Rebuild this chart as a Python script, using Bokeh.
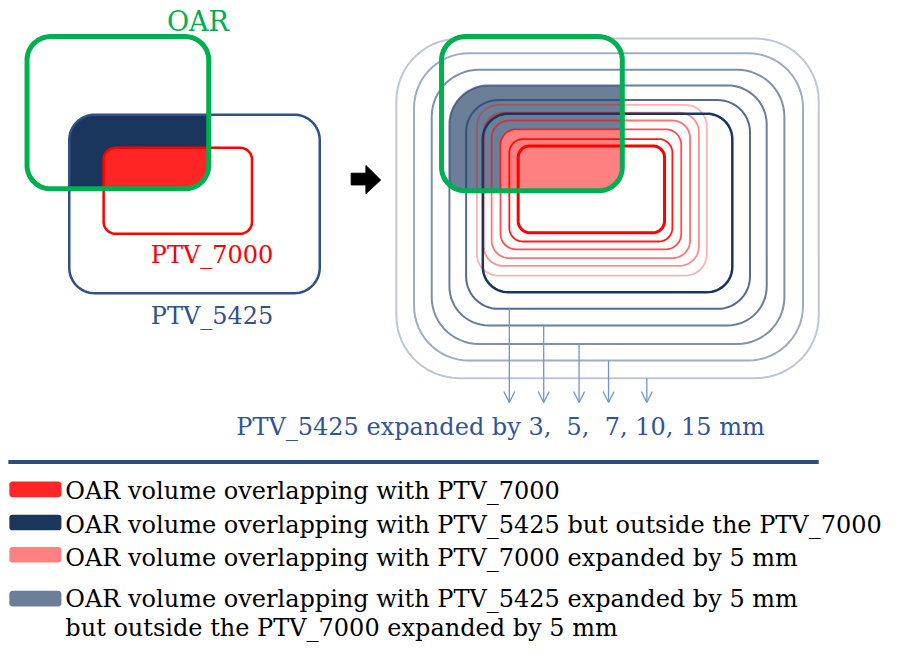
import numpy as np
from bokeh.plotting import figure
from bokeh.models import Range1d, ColumnDataSource, Arrow, OpenHead
from bokeh.core.properties import value
from bokeh.embed import file_html
from bokeh.resources import INLINE

# ---------------- diagram geometry: [left, top, right, bottom, corner radius] (reference pixels) -------------
oar_left_box = [27, 37, 212, 193, 24]
ptv5425_left_box = [70, 117, 325, 300, 26]
ptv7000_left_box = [105, 151, 256, 239, 12]

oar_right_box = [449, 37, 633, 195, 24]
ptv5425_right_box = [491, 116, 745, 299, 26]
ptv7000_right_box = [527, 149, 676, 238, 12]

expansion_mm = [3, 5, 7, 10, 15]
blue_ring_left = [474, 457, 439, 421, 403]
blue_ring_top = [102, 87, 71, 54, 39]
blue_ring_right = [763, 780, 798, 817, 833]
blue_ring_bottom = [316, 333, 352, 369, 387]
blue_ring_radius = [33, 40, 48, 56, 64]
blue_ring_alpha = [0.8, 0.7, 0.6, 0.45, 0.3]

red_ring_left = [518, 509, 500, 492, 485]
red_ring_top = [142, 132, 123, 115, 107]
red_ring_right = [684, 693, 702, 711, 719]
red_ring_bottom = [247, 255, 264, 272, 282]
red_ring_radius = [14, 16, 18, 20, 22]
red_ring_alpha = [0.9, 0.7, 0.55, 0.45, 0.3]

arrow_x = [518, 553, 589, 619, 658]
arrow_end_y = 412

# labels
label_oar = "OAR"
label_ptv7000 = "PTV_7000"
label_ptv5425 = "PTV_5425"
label_expanded = "PTV_5425 expanded by 3,\u00a0 5,\u00a0 7, 10, 15 mm"

legend_texts = [
    "OAR volume overlapping with PTV_7000",
    "OAR volume overlapping with PTV_5425 but outside the PTV_7000",
    "OAR volume overlapping with PTV_7000 expanded by 5 mm",
    "OAR volume overlapping with PTV_5425 expanded by 5 mm",
    "but outside the PTV_7000 expanded by 5 mm",
]
legend_text_y = [503, 537, 571, 613, 643]
legend_swatch_colors = ["#ff2525", "#1b365d", "#ff8080", "#6b7f99"]
legend_swatch_y = [501, 535, 568, 613]

# colors
GREEN = "#00b050"
RED = "#ff0000"
RED_FILL = "#ff2525"
NAVY_FILL = "#1b365d"
PTV5425_LINE = "#2f5185"
PINK_FILL = "#ff8080"
SLATE_FILL = "#6b7f99"
RING_BLUE = "#2c4670"
ARROW_BLUE = "#7094cc"
TEXT_BLUE = "#2f5597"
FONT = "DejaVu Serif"


def rrect(b, n=16):
    x0, y0, x1, y1, r = b
    pts = []
    corners = [(x0 + r, y0 + r, 180, 270), (x1 - r, y0 + r, 270, 360),
               (x1 - r, y1 - r, 0, 90), (x0 + r, y1 - r, 90, 180)]
    for cx, cy, a0, a1 in corners:
        for a in np.linspace(np.radians(a0), np.radians(a1), n):
            pts.append((cx + r * np.cos(a), cy + r * np.sin(a)))
    return pts


def signed_area(poly):
    s = 0.0
    for i in range(len(poly)):
        x0, y0 = poly[i]
        x1, y1 = poly[(i + 1) % len(poly)]
        s += x0 * y1 - x1 * y0
    return s / 2


def clip(subject, clipper):
    sgn = 1 if signed_area(clipper) > 0 else -1
    out = list(subject)
    for i in range(len(clipper)):
        a = clipper[i]
        b = clipper[(i + 1) % len(clipper)]
        if a == b:
            continue
        inp, out = out, []
        if not inp:
            break

        def cr(p):
            return sgn * ((b[0] - a[0]) * (p[1] - a[1]) - (b[1] - a[1]) * (p[0] - a[0]))

        prev = inp[-1]
        for cur in inp:
            cc, cp = cr(cur), cr(prev)
            if cc >= 0:
                if cp < 0:
                    t = cp / (cp - cc)
                    out.append((prev[0] + t * (cur[0] - prev[0]), prev[1] + t * (cur[1] - prev[1])))
                out.append(cur)
            elif cp >= 0:
                t = cp / (cp - cc)
                out.append((prev[0] + t * (cur[0] - prev[0]), prev[1] + t * (cur[1] - prev[1])))
            prev = cur
    return out


def xs_ys(pts, close=True):
    xs = [p[0] for p in pts]
    ys = [p[1] for p in pts]
    if close:
        xs.append(xs[0])
        ys.append(ys[0])
    return xs, ys


p = figure(width=888, height=645, x_range=Range1d(0, 904), y_range=Range1d(661, 0),
           output_backend="svg", toolbar_location=None, min_border=0)
p.axis.visible = False
p.grid.visible = False
p.outline_line_color = None
p.background_fill_color = "white"

# ---------------- left diagram ----------------
x, y = xs_ys(clip(rrect(oar_left_box), rrect(ptv5425_left_box)), close=False)
p.patch(x, y, fill_color=NAVY_FILL, line_color=None)
x, y = xs_ys(clip(rrect(oar_left_box), rrect(ptv7000_left_box)), close=False)
p.patch(x, y, fill_color=RED_FILL, line_color=None)

x, y = xs_ys(rrect(ptv5425_left_box))
p.line(x, y, line_color=PTV5425_LINE, line_width=2.5)
x, y = xs_ys(rrect(ptv7000_left_box))
p.line(x, y, line_color=RED, line_width=2.5)
x, y = xs_ys(rrect(oar_left_box))
p.line(x, y, line_color=GREEN, line_width=5)

p.text(x=[201], y=[22], text=[label_oar], text_color=GREEN, text_align="center",
       text_baseline="middle", text_font=value(FONT), text_font_size=value("27px"))
p.text(x=[153], y=[261], text=[label_ptv7000], text_color=RED, text_align="left",
       text_baseline="middle", text_font=value(FONT), text_font_size=value("24px"))
p.text(x=[153], y=[323], text=[label_ptv5425], text_color=PTV5425_LINE, text_align="left",
       text_baseline="middle", text_font=value(FONT), text_font_size=value("24px"))

# black arrow between the diagrams
arrow_shape_x = [357, 372, 372, 387, 372, 372, 357]
arrow_shape_y = [177, 177, 169, 184, 198, 189, 189]
p.patch(arrow_shape_x, arrow_shape_y, fill_color="black", line_color="black", line_width=1)

# ---------------- right diagram ----------------
ring5 = [blue_ring_left[1], blue_ring_top[1], blue_ring_right[1], blue_ring_bottom[1], blue_ring_radius[1]]
red5 = [red_ring_left[1], red_ring_top[1], red_ring_right[1], red_ring_bottom[1], red_ring_radius[1]]
x, y = xs_ys(clip(rrect(oar_right_box), rrect(ring5)), close=False)
p.patch(x, y, fill_color=SLATE_FILL, line_color=None)
x, y = xs_ys(clip(rrect(oar_right_box), rrect(red5)), close=False)
p.patch(x, y, fill_color=PINK_FILL, line_color=None)

bx, by = [], []
for i in range(len(expansion_mm)):
    xx, yy = xs_ys(rrect([blue_ring_left[i], blue_ring_top[i], blue_ring_right[i],
                          blue_ring_bottom[i], blue_ring_radius[i]]))
    bx.append(xx)
    by.append(yy)
p.multi_line(xs="xs", ys="ys", line_alpha="a", line_color=RING_BLUE, line_width=2,
             source=ColumnDataSource(dict(xs=bx, ys=by, a=blue_ring_alpha)))

rx, ry = [], []
for i in range(len(expansion_mm)):
    xx, yy = xs_ys(rrect([red_ring_left[i], red_ring_top[i], red_ring_right[i],
                          red_ring_bottom[i], red_ring_radius[i]]))
    rx.append(xx)
    ry.append(yy)
p.multi_line(xs="xs", ys="ys", line_alpha="a", line_color=RED, line_width=1.8,
             source=ColumnDataSource(dict(xs=rx, ys=ry, a=red_ring_alpha)))

x, y = xs_ys(rrect(ptv5425_right_box))
p.line(x, y, line_color=NAVY_FILL, line_width=2.5)
x, y = xs_ys(rrect(ptv7000_right_box))
p.line(x, y, line_color=RED, line_width=3)
x, y = xs_ys(rrect(oar_right_box))
p.line(x, y, line_color=GREEN, line_width=5)

for ax, ay in zip(arrow_x, blue_ring_bottom):
    p.add_layout(Arrow(x_start=ax, y_start=ay, x_end=ax, y_end=arrow_end_y,
                       line_color=ARROW_BLUE, line_width=1.3,
                       end=OpenHead(size=11, line_color=ARROW_BLUE, line_width=1.3)))

p.text(x=[240], y=[437], text=[label_expanded], text_color=TEXT_BLUE, text_align="left",
       text_baseline="middle", text_font=value(FONT), text_font_size=value("24px"))

# ---------------- separator + legend ----------------
p.line([8, 833], [473, 473], line_color="#2b4d80", line_width=4)

for c, sy in zip(legend_swatch_colors, legend_swatch_y):
    x, y = xs_ys(rrect([9, sy - 8, 62, sy + 8, 3], n=5), close=False)
    p.patch(x, y, fill_color=c, line_color=None)

p.text(x=[66] * len(legend_texts), y=legend_text_y, text=legend_texts, text_color="black",
       text_align="left", text_baseline="middle", text_font=value(FONT),
       text_font_size=value("24px"))

open("out.html", "w").write(file_html(p, INLINE))
